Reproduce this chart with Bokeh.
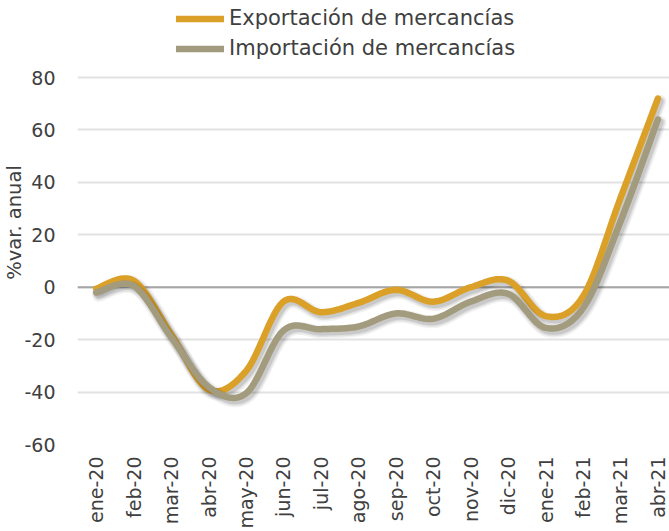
import numpy as np
from math import pi
from bokeh.plotting import figure
from bokeh.models import (Range1d, FixedTicker, Span, Legend, LegendItem)
from bokeh.embed import file_html
from bokeh.resources import INLINE

categories = ["ene-20", "feb-20", "mar-20", "abr-20", "may-20", "jun-20", "jul-20",
              "ago-20", "sep-20", "oct-20", "nov-20", "dic-20", "ene-21", "feb-21",
              "mar-21", "abr-21"]
exportacion = [-0.5, 2.5, -18, -39, -32, -5.5, -9.5, -6, -1, -5.5, 0, 2.5, -11, -3.5, 34, 72]
importacion = [-2, 0.5, -19, -38, -40.5, -16.5, -16, -15, -10, -12, -5.5, -2.5, -15.5, -8, 25, 64]
y_ticks = [-60, -40, -20, 0, 20, 40, 60, 80]
y_title = "%var. anual"

FONT = "DejaVu Sans"
TXT = "#404040"
C_EXP = "#DBA028"
C_IMP = "#A39B7D"


def smooth(xs, ys, n=24):
    # Bezier smoothing through the data points (like a spreadsheet "smoothed line")
    P = np.column_stack([xs, ys]).astype(float)
    out = []
    m = len(P)
    t = np.linspace(0, 1, n)[:, None]
    for i in range(m - 1):
        p0 = P[i - 1] if i > 0 else P[i]
        p1 = P[i]
        p2 = P[i + 1]
        p3 = P[i + 2] if i + 2 < m else P[i + 1]
        c1 = p1 + (p2 - p0) / 6.0
        c2 = p2 - (p3 - p1) / 6.0
        seg = ((1 - t) ** 3) * p1 + 3 * ((1 - t) ** 2) * t * c1 + 3 * (1 - t) * t ** 2 * c2 + t ** 3 * p2
        out.append(seg if i == 0 else seg[1:])
    arr = np.vstack(out)
    return arr[:, 0], arr[:, 1]


x_idx = list(range(len(categories)))

# The plotting area reaches up to the top of the canvas so that the legend
# (drawn in the space above the 80 gridline) is not clipped.
p = figure(width=669, height=531, output_backend="svg", toolbar_location=None,
           x_range=Range1d(-0.5, 15.31), y_range=Range1d(-60, 109.4),
           min_border_left=76, min_border_top=0, min_border_bottom=87, min_border_right=0)
p.outline_line_color = None
p.background_fill_color = "white"
p.border_fill_color = "white"

p.xgrid.visible = False
p.ygrid.grid_line_color = "#E2E2E2"
p.ygrid.grid_line_width = 2

p.yaxis.ticker = FixedTicker(ticks=y_ticks)
p.yaxis.major_label_overrides = {v: str(v) for v in y_ticks}
p.yaxis.axis_line_color = None
p.yaxis.major_tick_line_color = None
p.yaxis.minor_tick_line_color = None
p.yaxis.major_tick_out = 0
p.yaxis.major_tick_in = 0
p.yaxis.major_label_standoff = 22
p.yaxis.major_label_text_font = FONT
p.yaxis.major_label_text_font_size = "19px"
p.yaxis.major_label_text_color = TXT
p.yaxis.axis_label = y_title
p.yaxis.axis_label_standoff = -5
p.yaxis.axis_label_text_font = FONT
p.yaxis.axis_label_text_font_size = "19.5px"
p.yaxis.axis_label_text_font_style = "normal"
p.yaxis.axis_label_text_color = TXT

p.xaxis.ticker = FixedTicker(ticks=x_idx)
p.xaxis.major_label_overrides = {i: c for i, c in zip(x_idx, categories)}
p.xaxis.major_label_orientation = pi / 2
p.xaxis.axis_line_color = None
p.xaxis.major_tick_line_color = None
p.xaxis.minor_tick_line_color = None
p.xaxis.major_tick_out = 0
p.xaxis.major_tick_in = 0
p.xaxis.major_label_standoff = 12
p.xaxis.major_label_text_font = FONT
p.xaxis.major_label_text_font_size = "19px"
p.xaxis.major_label_text_color = TXT

zero = Span(location=0, dimension="width", line_color="#A6A6A6", line_width=2, level="underlay")
p.add_layout(zero)

# shadow offsets (approx 2px right, 3px down) expressed in data units
dx, dy = 0.06, -1.1

renderers = {}
for name, vals, col in [("exp", exportacion, C_EXP), ("imp", importacion, C_IMP)]:
    sx, sy = smooth(x_idx, vals)
    for w, a in [(13, 0.05), (10, 0.07), (7, 0.10)]:
        p.line(sx + dx, sy + dy, line_color="black", line_alpha=a, line_width=w,
               line_cap="round", line_join="round")
    renderers[name] = p.line(sx, sy, line_color=col, line_width=6.5,
                             line_cap="round", line_join="round")

legend = Legend(items=[
    LegendItem(label="Exportación de mercancías", renderers=[renderers["exp"]]),
    LegendItem(label="Importación de mercancías", renderers=[renderers["imp"]]),
], location=(99, 383.5), orientation="vertical")
legend.background_fill_alpha = 0
legend.border_line_alpha = 0
legend.padding = 0
legend.margin = 0
legend.spacing = 5
legend.glyph_width = 48
legend.glyph_height = 25
legend.label_height = 25
legend.label_standoff = 5
legend.label_text_font = FONT
legend.label_text_font_size = "21px"
legend.label_text_color = TXT
legend.label_text_baseline = "middle"
p.add_layout(legend, "center")

open("out.html", "w").write(file_html(p, INLINE))
